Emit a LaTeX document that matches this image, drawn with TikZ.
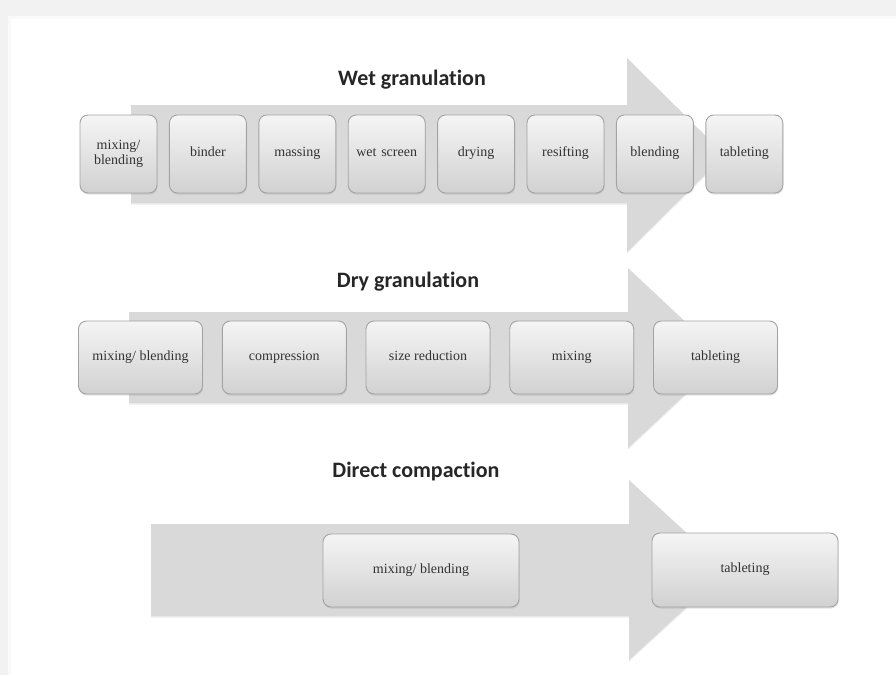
\documentclass[tikz,border=0pt]{standalone}
\usepackage{fontspec}
\setmainfont{Liberation Serif}
\newfontfamily\titlefont[Ligatures=NoCommon]{Carlito}
\usetikzlibrary{shadows}
\begin{document}
\begin{tikzpicture}[x=1pt,y=-1pt,
  stepbox/.style={draw=black!36, line width=0.9pt, rounded corners=8pt,
    top color=black!4, bottom color=black!18, text=black!80,
    font=\fontsize{14}{14.5}\selectfont, align=center, inner sep=2pt,
    execute at begin node=\strut,
    drop shadow={opacity=0.22, shadow xshift=0.6pt, shadow yshift=-1.6pt}},
  wetbox/.style={stepbox, minimum width=77pt, minimum height=78pt, text width=72pt},
  drybox/.style={stepbox, minimum width=124pt, minimum height=73pt},
  flow/.style={fill=black!15, draw=none,
    drop shadow={opacity=0.15, shadow xshift=0pt, shadow yshift=-1.5pt}},
  ttl/.style={font=\titlefont\bfseries\fontsize{22}{24}\selectfont, text=black!85}
]
\useasboundingbox (0,0) rectangle (896,675);
% page background
\fill[black!5] (0,0) rectangle (896,675);
\fill[black!2] (8,16) rectangle (896,675);
\fill[white] (11,19) rectangle (896,675);

% ---------- Wet granulation ----------
\node[ttl] (t1) at (412,80) {Wet granulation};
\path[flow] (131,105) -- (627,105) -- (627,58) -- (725,155) -- (627,252) -- (627,203) -- (131,203) -- cycle;
\node[wetbox] (w1) at (118.5,154) {mixing/\\\strut blending};
\node[wetbox] (w2) at (207.9,154) {binder};
\node[wetbox] (w3) at (297.3,154) {massing};
\node[wetbox] (w4) at (386.7,154) {wet screen};
\node[wetbox] (w5) at (476.1,154) {drying};
\node[wetbox] (w6) at (565.5,154) {resifting};
\node[wetbox] (w7) at (654.9,154) {blending};
\node[wetbox] (w8) at (744.3,154) {tableting};

% ---------- Dry granulation ----------
\node[ttl] (t2) at (408,282) {Dry granulation};
\path[flow] (129,312) -- (628,312) -- (628,268) -- (724,358) -- (628,448) -- (628,403) -- (129,403) -- cycle;
\node[drybox] (d1) at (140.5,357.5) {mixing/ blending};
\node[drybox] (d2) at (284.3,357.5) {compression};
\node[drybox] (d3) at (428,357.5) {size reduction};
\node[drybox] (d4) at (571.7,357.5) {mixing};
\node[drybox] (d5) at (715.5,357.5) {tableting};

% ---------- Direct compaction ----------
\node[ttl] (t3) at (416,472) {Direct compaction};
\path[flow] (151,524) -- (629,524) -- (629,480) -- (727,570) -- (629,660) -- (629,616) -- (151,616) -- cycle;
\node[stepbox, minimum width=196pt, minimum height=73pt] (c1) at (421,570.5) {mixing/ blending};
\node[stepbox, minimum width=186pt, minimum height=74pt] (c2) at (745,570) {tableting};
\end{tikzpicture}
\end{document}
